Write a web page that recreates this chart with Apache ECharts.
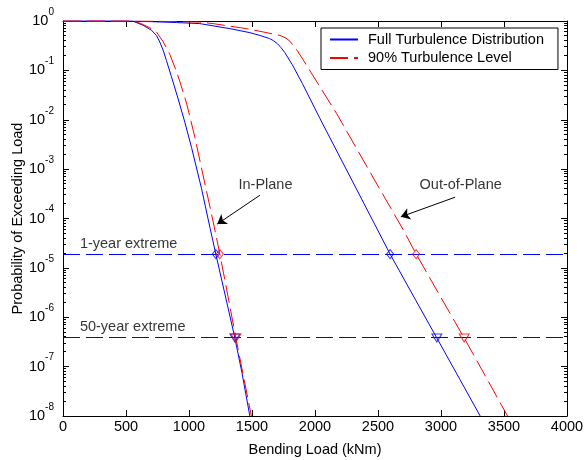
<!DOCTYPE html>
<html>
<head>
<meta charset="utf-8">
<script src="https://cdn.jsdelivr.net/npm/echarts@6/dist/echarts.min.js"></script>
<style>
  html, body { margin: 0; padding: 0; background: #fff; }
  #chart { width: 584px; height: 460px; }
</style>
</head>
<body>
<div id="chart"></div>
<script>
// Bending load (kNm) vs. probability of exceeding that load
const inPlaneFullLoad = [0, 500, 556, 636, 702, 742, 768, 795, 821, 861, 914, 967, 1020, 1100, 1166, 1213, 1300, 1364, 1420, 1483];
const inPlaneFullProb = [1, 1, 0.99, 0.82, 0.65, 0.51, 0.376, 0.255, 0.158, 0.074, 0.0263, 0.0089, 2.75e-3, 3.98e-4, 6.6e-5, 1.9e-5, 2.0e-6, 3.8e-7, 7.6e-8, 1e-8];

const inPlane90Load = [0, 550, 609, 689, 742, 795, 848, 890, 927, 980, 1046, 1120, 1192, 1245, 1310, 1372, 1430, 1495];
const inPlane90Prob = [1, 1, 0.91, 0.73, 0.6, 0.38, 0.21, 0.112, 0.060, 0.0219, 0.0045, 6.0e-4, 8.5e-5, 1.9e-5, 2.6e-6, 3.8e-7, 6.8e-8, 1e-8];

const outPlaneFullLoad = [0, 500, 700, 900, 1086, 1325, 1484, 1563, 1640, 1670, 1700, 1730, 1760, 1820, 1900, 2040, 2300, 2596, 2800, 2967, 3150, 3311];
const outPlaneFullProb = [1, 1, 0.97, 0.93, 0.885, 0.70, 0.58, 0.51, 0.44, 0.40, 0.35, 0.29, 0.23, 0.13, 0.054, 0.0105, 5.5e-4, 1.9e-5, 2.2e-6, 3.8e-7, 5.5e-8, 1e-8];

const outPlane90Load = [0, 700, 1086, 1192, 1457, 1589, 1722, 1770, 1801, 1828, 1860, 1907, 2040, 2172, 2450, 2702, 2803, 3000, 3184, 3350, 3528];
const outPlane90Prob = [1, 0.995, 0.95, 0.885, 0.70, 0.6, 0.51, 0.45, 0.39, 0.32, 0.25, 0.162, 0.046, 0.0133, 7.6e-4, 5.8e-5, 1.9e-5, 2.5e-6, 3.8e-7, 6.6e-8, 1e-8];

// Extreme-event exceedance levels
const oneYearLevel = 1.9e-5;
const fiftyYearLevel = 3.8e-7;
const extremeLevels = [oneYearLevel, fiftyYearLevel];

// Loads where each curve crosses the extreme levels [in-plane, out-of-plane]
const oneYearFullLoads = [1213, 2596];
const oneYear90Loads = [1245, 2803];
const fiftyYearFullLoads = [1364, 2967];
const fiftyYear90Loads = [1372, 3184];

// Axis ticks
const xTicks = [0, 500, 1000, 1500, 2000, 2500, 3000, 3500, 4000];
const yDecades = [1e-8, 1e-7, 1e-6, 1e-5, 1e-4, 1e-3, 1e-2, 1e-1, 1];
const yMinorTicks = [];
for (let k = -8; k < 0; k++) {
  for (let m = 2; m <= 9; m++) yMinorTicks.push(m * Math.pow(10, k));
}

// Text annotations and pointer arrows, in data units
const annotationText = ['In-Plane', 'Out-of-Plane', '1-year extreme', '50-year extreme'];
const annotationAt = [[1607, 4.7e-4], [3156, 4.7e-4], [521, 3.1e-5], [553, 6.4e-7]];
const arrowFrom = [[1563, 2.96e-4], [3112, 2.7e-4]];
const arrowTo = [[1224, 7.7e-5], [2681, 1.08e-4]];

const FONT = "'Liberation Sans', Arial, sans-serif";
const BLUE = '#0000ff';
const RED = '#ff0000';
const CLEAR = 'rgba(0,0,0,0)';

const zip = (xs, ys) => xs.map((x, i) => [x, ys[i]]);
const xMin = xTicks[0];
const xMax = xTicks[xTicks.length - 1];
const snap = v => Math.round(v - 0.5) + 0.5;

const chart = echarts.init(document.getElementById('chart'), null, { renderer: 'canvas' });

const xAxisBase = {
  type: 'value',
  min: xMin,
  max: xMax,
  interval: xTicks[1] - xTicks[0],
  splitLine: { show: false },
  axisLine: { show: true, onZero: false, lineStyle: { color: '#000', width: 1 } },
  axisTick: { show: true, inside: true, length: 6, lineStyle: { color: '#000' } }
};

const yAxisBase = {
  type: 'log',
  logBase: 10,
  min: yDecades[0],
  max: yDecades[yDecades.length - 1],
  interval: 1,
  splitLine: { show: false },
  axisLine: { show: true, onZero: false, lineStyle: { color: '#000', width: 1 } },
  axisTick: { show: true, inside: true, length: 6, lineStyle: { color: '#000' } }
};

const curve = (name, load, prob, color, dashed) => ({
  name: name,
  type: 'line',
  data: zip(load, prob),
  symbol: 'none',
  smooth: false,
  lineStyle: { color: color, width: 1, type: dashed ? [18, 6] : 'solid' },
  itemStyle: { color: color },
  silent: true,
  z: 3
});

const markers = (name, loads, level, color, symbol, size, rotate) => ({
  name: name,
  type: 'scatter',
  data: loads.map(x => [x, level]),
  symbol: symbol,
  symbolRotate: rotate,
  symbolSize: size,
  itemStyle: { color: CLEAR, borderColor: color, borderWidth: 1 },
  silent: true,
  z: 4
});

const option = {
  animation: false,
  backgroundColor: '#fff',
  textStyle: { fontFamily: FONT },
  grid: { left: 63, right: 17, top: 21, bottom: 44, containLabel: false, outerBoundsMode: 'none' },
  legend: {
    data: ['Full Turbulence Distribution', '90% Turbulence Level'],
    orient: 'vertical',
    left: 321,
    top: 28,
    padding: [4, 14, 4, 8],
    itemGap: 3.5,
    itemWidth: 28,
    itemHeight: 14,
    backgroundColor: '#fff',
    borderColor: '#000',
    borderWidth: 1,
    borderRadius: 0,
    selectedMode: false,
    itemStyle: { color: CLEAR, borderWidth: 0, opacity: 0 },
    textStyle: { fontSize: 14.5, color: '#000', fontFamily: FONT, padding: [0, 0, 0, 5] }
  },
  xAxis: [
    Object.assign({}, xAxisBase, {
      position: 'bottom',
      name: 'Bending Load (kNm)',
      nameLocation: 'middle',
      nameGap: 26,
      nameMoveOverlap: false,
      nameTextStyle: { fontSize: 14.5, color: '#000', fontFamily: FONT },
      axisLabel: { show: true, margin: 3, fontSize: 14.5, color: '#000', fontFamily: FONT, formatter: v => String(v) }
    }),
    Object.assign({}, xAxisBase, { position: 'top', axisLabel: { show: false } })
  ],
  yAxis: [
    Object.assign({}, yAxisBase, {
      position: 'left',
      name: 'Probability of Exceeding Load',
      nameLocation: 'middle',
      nameGap: 38,
      nameMoveOverlap: false,
      nameTextStyle: { fontSize: 14.5, color: '#000', fontFamily: FONT },
      axisLabel: {
        show: true,
        margin: 9,
        formatter: function (v) {
          const e = Math.round(Math.log10(v));
          return '{b|10}{e|' + e + '}';
        },
        rich: {
          b: { fontSize: 14.5, color: '#000', fontFamily: FONT },
          e: { fontSize: 10, color: '#000', fontFamily: FONT, padding: [0, 0, 18, 0] }
        }
      }
    }),
    Object.assign({}, yAxisBase, { position: 'right', axisLabel: { show: false } })
  ],
  series: [
    // Dashed 1-year / 50-year extreme levels across the full load range
    {
      name: 'extremeLevels',
      type: 'custom',
      data: extremeLevels.map(v => [xMin, v]),
      silent: true,
      z: 2,
      renderItem: function (params, api) {
        const v = api.value(1);
        const a = api.coord([xMin, v]);
        const b = api.coord([xMax, v]);
        const y = snap(a[1]);
        return {
          type: 'line',
          shape: { x1: a[0], y1: y, x2: b[0], y2: y },
          style: { stroke: BLUE, lineWidth: 1, lineDash: [17, 6] }
        };
      }
    },
    curve('Full Turbulence Distribution', inPlaneFullLoad, inPlaneFullProb, BLUE, false),
    curve('Full Turbulence Distribution', outPlaneFullLoad, outPlaneFullProb, BLUE, false),
    Object.assign(curve('90% Turbulence Level', inPlane90Load, inPlane90Prob, RED, true), {
      markLine: {
        silent: true,
        symbol: ['none', 'arrow'],
        symbolSize: 9,
        label: { show: false },
        lineStyle: { color: '#000', width: 1, type: 'solid' },
        data: arrowFrom.map((p, i) => [{ coord: p }, { coord: arrowTo[i] }])
      }
    }),
    curve('90% Turbulence Level', outPlane90Load, outPlane90Prob, RED, true),
    // 1-year extreme markers (diamonds), 50-year extreme markers (downward triangles)
    markers('oneYearFull', oneYearFullLoads, oneYearLevel, BLUE, 'diamond', [7, 9], 0),
    markers('oneYear90', oneYear90Loads, oneYearLevel, RED, 'diamond', [7, 9], 0),
    markers('fiftyYearFull', fiftyYearFullLoads, fiftyYearLevel, BLUE, 'triangle', [10, 8], 180),
    markers('fiftyYear90', fiftyYear90Loads, fiftyYearLevel, RED, 'triangle', [10, 8], 180),
    // Minor log ticks on both vertical axes
    {
      name: 'minorTicks',
      type: 'custom',
      data: yMinorTicks.map(v => [xMin, v]),
      silent: true,
      clip: false,
      z: 5,
      renderItem: function (params, api) {
        const v = api.value(1);
        const left = api.coord([xMin, v]);
        const right = api.coord([xMax, v]);
        const y = snap(left[1]);
        const style = { stroke: '#000', lineWidth: 1 };
        return {
          type: 'group',
          children: [
            { type: 'line', shape: { x1: left[0], y1: y, x2: left[0] + 3, y2: y }, style: style },
            { type: 'line', shape: { x1: right[0] - 3, y1: y, x2: right[0], y2: y }, style: style }
          ]
        };
      }
    },
    // Text annotations
    {
      name: 'annotations',
      type: 'scatter',
      data: annotationAt.map((p, i) => ({ value: p, name: annotationText[i] })),
      symbol: 'circle',
      symbolSize: 1,
      itemStyle: { color: CLEAR },
      silent: true,
      z: 6,
      label: {
        show: true,
        position: 'inside',
        formatter: p => p.name,
        fontSize: 14.5,
        color: '#000',
        fontFamily: FONT
      }
    }
  ]
};

chart.setOption(option);
</script>
</body>
</html>
